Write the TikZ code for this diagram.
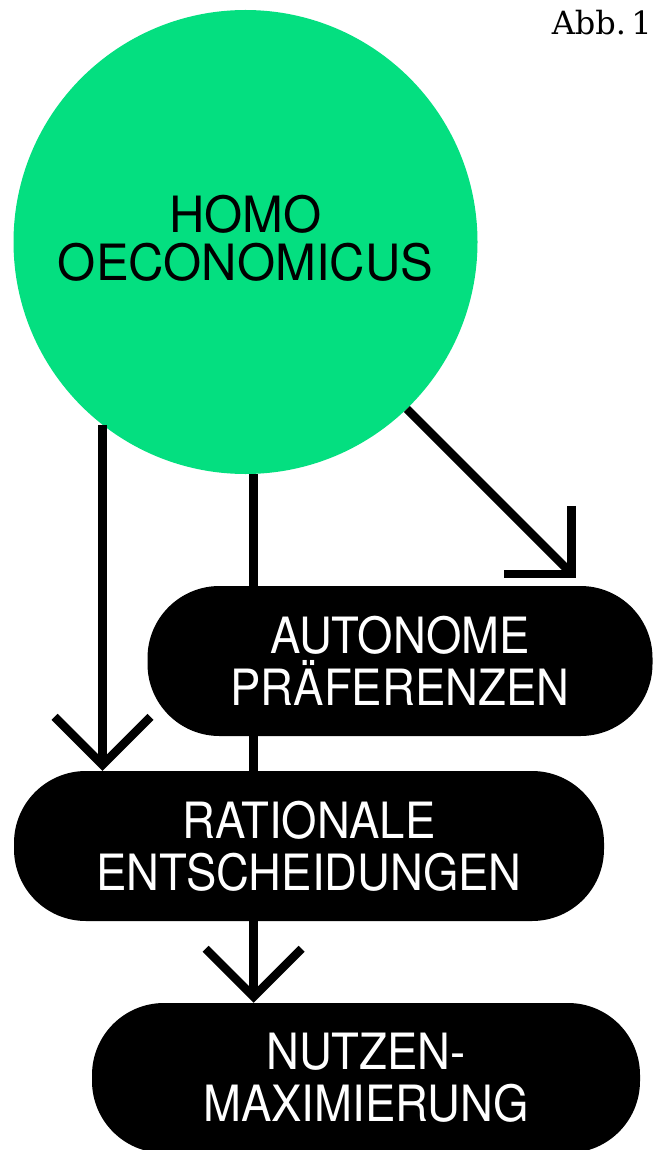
\documentclass[tikz,border=0pt]{standalone}
\usepackage{fontspec}
\setmainfont{TeX Gyre Heros}
\newfontfamily\pillfont[FakeStretch=0.91]{TeX Gyre Heros}
\newfontfamily\circfont[FakeStretch=0.98]{TeX Gyre Heros}
\newfontfamily\abbfont{DejaVu Serif}
\usetikzlibrary{arrows.meta,calc,backgrounds}
\definecolor{homogreen}{RGB}{4,223,128}
\begin{document}
\begin{tikzpicture}[x=1pt,y=-1pt,
  pill/.style={rectangle, rounded corners=72pt, fill=black, text=white, align=center,
    inner sep=0pt, minimum height=150pt, font=\pillfont\fontsize{50}{52}\selectfont},
  conn/.style={line width=8.5pt, line cap=butt},
  arr/.style={conn, -{Straight Barb[length=48pt,width=96pt,line cap=butt,line join=miter]}}
]
\useasboundingbox (0,0) rectangle (657,1150);

\node[circle, fill=homogreen, minimum size=464pt, inner sep=0pt] (homo) at (245.5,242) {};
\node[align=center, inner sep=0pt, font=\circfont\fontsize{50}{48}\selectfont]
  (homotext) at ($(homo.center)+(0,-4)$) {HOMO\\OECONOMICUS};

\node[pill, minimum width=505pt] (auto) at (400,661) {AUTONOME\\PRÄFERENZEN};
\node[pill, minimum width=590pt] (rat) at (309,846) {RATIONALE\\ENTSCHEIDUNGEN};
\node[pill, minimum width=548pt] (nutz) at (366,1078) {NUTZEN-\\MAXIMIERUNG};

\node[anchor=base east, inner sep=0pt, font=\abbfont\fontsize{32}{38}\selectfont] (abb) at (652,35) {Abb.\,1};

\coordinate (dtip) at ($(homo.-46.5)+(169,169)$);

\begin{scope}[on background layer]
  \draw[conn] (homo.-88) -- (homo.-88 |- rat.north);
\end{scope}
\draw[arr] (homo.-128) -- (homo.-128 |- rat.north);
\draw[arr] (homo.-46.5) -- (dtip);
\draw[arr] (homo.-88 |- rat.south) -- (homo.-88 |- nutz.north);
\end{tikzpicture}
\end{document}
